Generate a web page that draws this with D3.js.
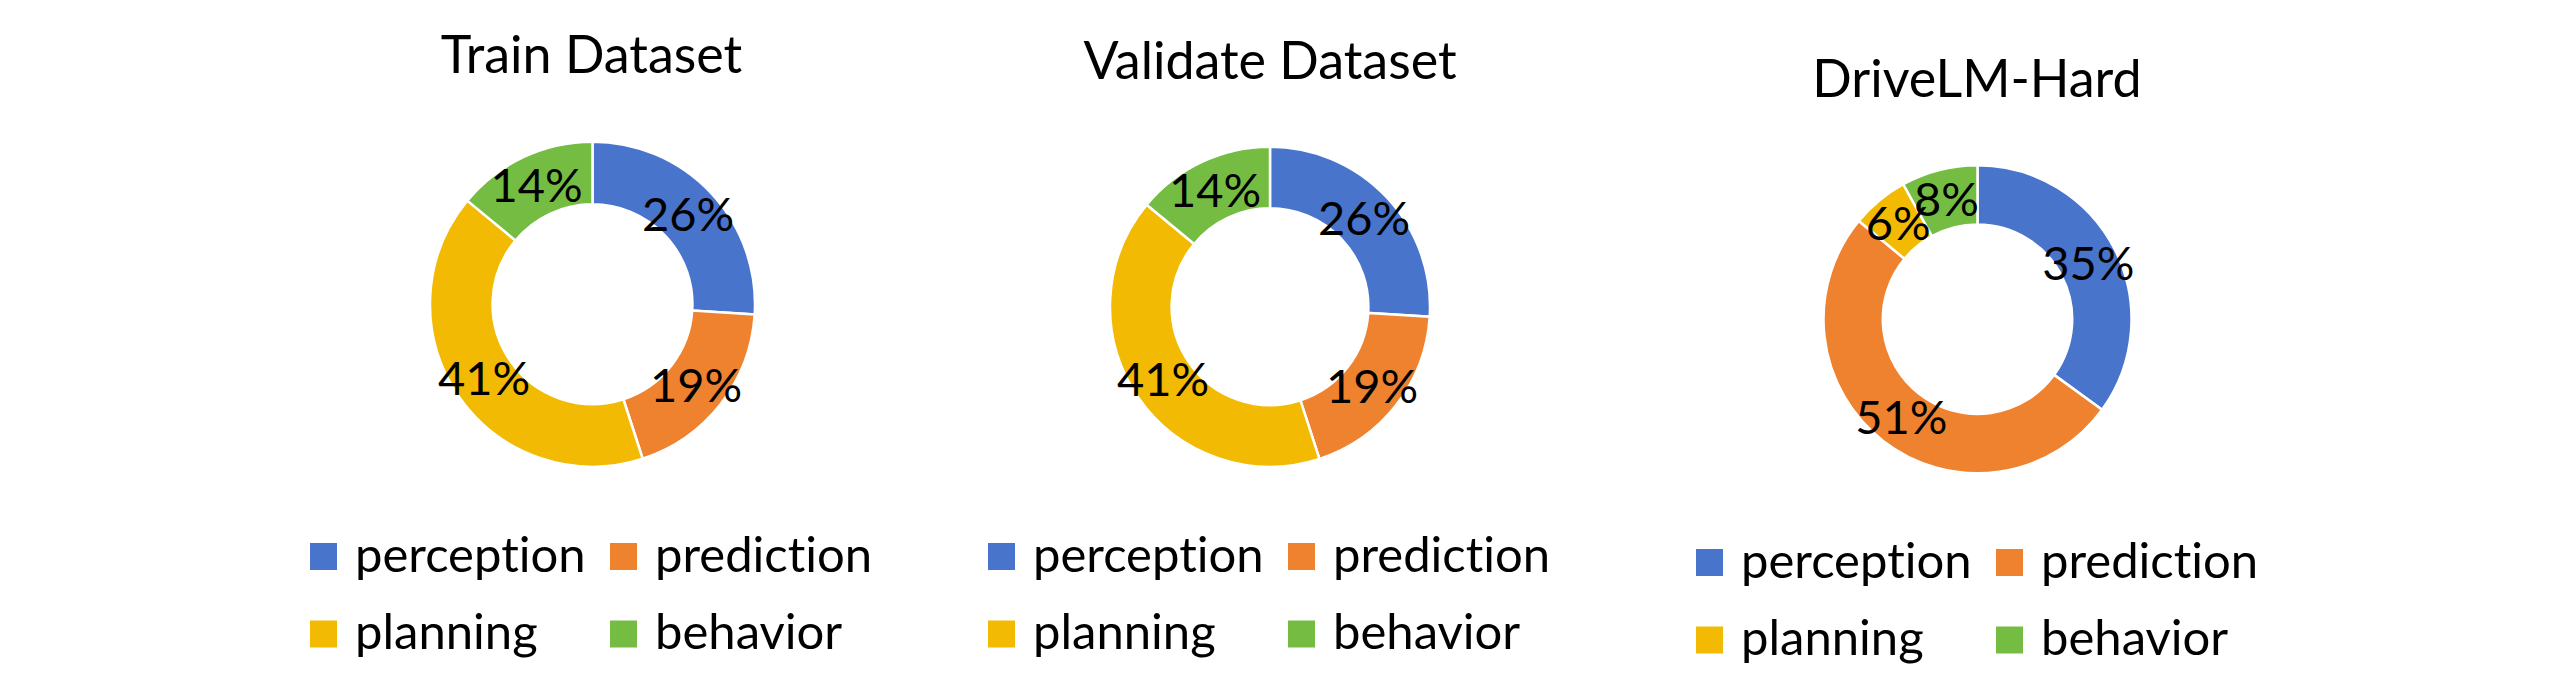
<!DOCTYPE html>
<html>
<head>
<meta charset="utf-8">
<script src="https://cdn.jsdelivr.net/npm/d3@7"></script>
<style>
  html, body { margin: 0; padding: 0; background: #ffffff; }
  svg { display: block; }
  text { font-family: "Lato", "Open Sans", "DejaVu Sans", sans-serif; fill: #000; font-variant-ligatures: none; font-feature-settings: "liga" 0, "clig" 0; }
</style>
</head>
<body>
<script>
// ---- data ----
const categories = ["perception", "prediction", "planning", "behavior"];
const titles = ["Train Dataset", "Validate Dataset", "DriveLM-Hard"];
const trainValues = [26, 19, 41, 14];
const validateValues = [26, 19, 41, 14];
const hardValues = [35, 51, 6, 8];
const colors = ["#4874CB", "#EE822F", "#F2BA02", "#75BD42"];

// ---- layout ----
const W = 2575, H = 688;
const panels = [
  { values: trainValues,    cx: 592.5,  cy: 304.2, R: 162.5, titleX: 591.5, titleY: 73, legX: 310,  legY: 543 },
  { values: validateValues, cx: 1270,   cy: 306.7, R: 160,   titleX: 1270,  titleY: 79, legX: 988,  legY: 543 },
  { values: hardValues,     cx: 1977.5, cy: 319.2, R: 154,   titleX: 1977,  titleY: 97, legX: 1696, legY: 549 }
];
const holeRatio = 0.615;
const sq = 27, colGap = 300, rowGap = 77.5, textOff = 45;

const svg = d3.select("body").append("svg").attr("width", W).attr("height", H);
const color = d3.scaleOrdinal().domain(categories).range(colors);
const pie = d3.pie().sort(null).value(d => d.v);

panels.forEach((p, i) => {
  const g = svg.append("g");
  const data = categories.map((c, k) => ({ c, v: p.values[k] }));
  const total = d3.sum(p.values);
  const r0 = p.R * holeRatio;
  const arc = d3.arc().innerRadius(r0).outerRadius(p.R);
  const labelArc = d3.arc().innerRadius((r0 + p.R) / 2).outerRadius((r0 + p.R) / 2);
  const arcs = pie(data);

  g.append("text")
    .attr("x", p.titleX).attr("y", p.titleY)
    .attr("text-anchor", "middle")
    .style("font-size", "52px")
    .text(titles[i]);

  const dg = g.append("g").attr("transform", `translate(${p.cx},${p.cy})`);
  dg.selectAll("path").data(arcs).join("path")
    .attr("d", arc)
    .attr("fill", d => color(d.data.c))
    .attr("stroke", "#fff")
    .attr("stroke-width", 2.5);

  dg.selectAll("text").data(arcs).join("text")
    .attr("transform", d => `translate(${labelArc.centroid(d)})`)
    .attr("text-anchor", "middle")
    .attr("dy", "0.36em")
    .style("font-size", "47px")
    .text(d => Math.round(d.data.v / total * 100) + "%");

  const lg = g.append("g");
  categories.forEach((c, k) => {
    const x = p.legX + (k % 2) * colGap;
    const y = p.legY + Math.floor(k / 2) * rowGap;
    lg.append("rect").attr("x", x).attr("y", y).attr("width", sq).attr("height", sq).attr("fill", color(c));
    lg.append("text").attr("x", x + textOff).attr("y", y + sq + 1.5)
      .style("font-size", "49px").text(c);
  });
});
</script>
</body>
</html>
